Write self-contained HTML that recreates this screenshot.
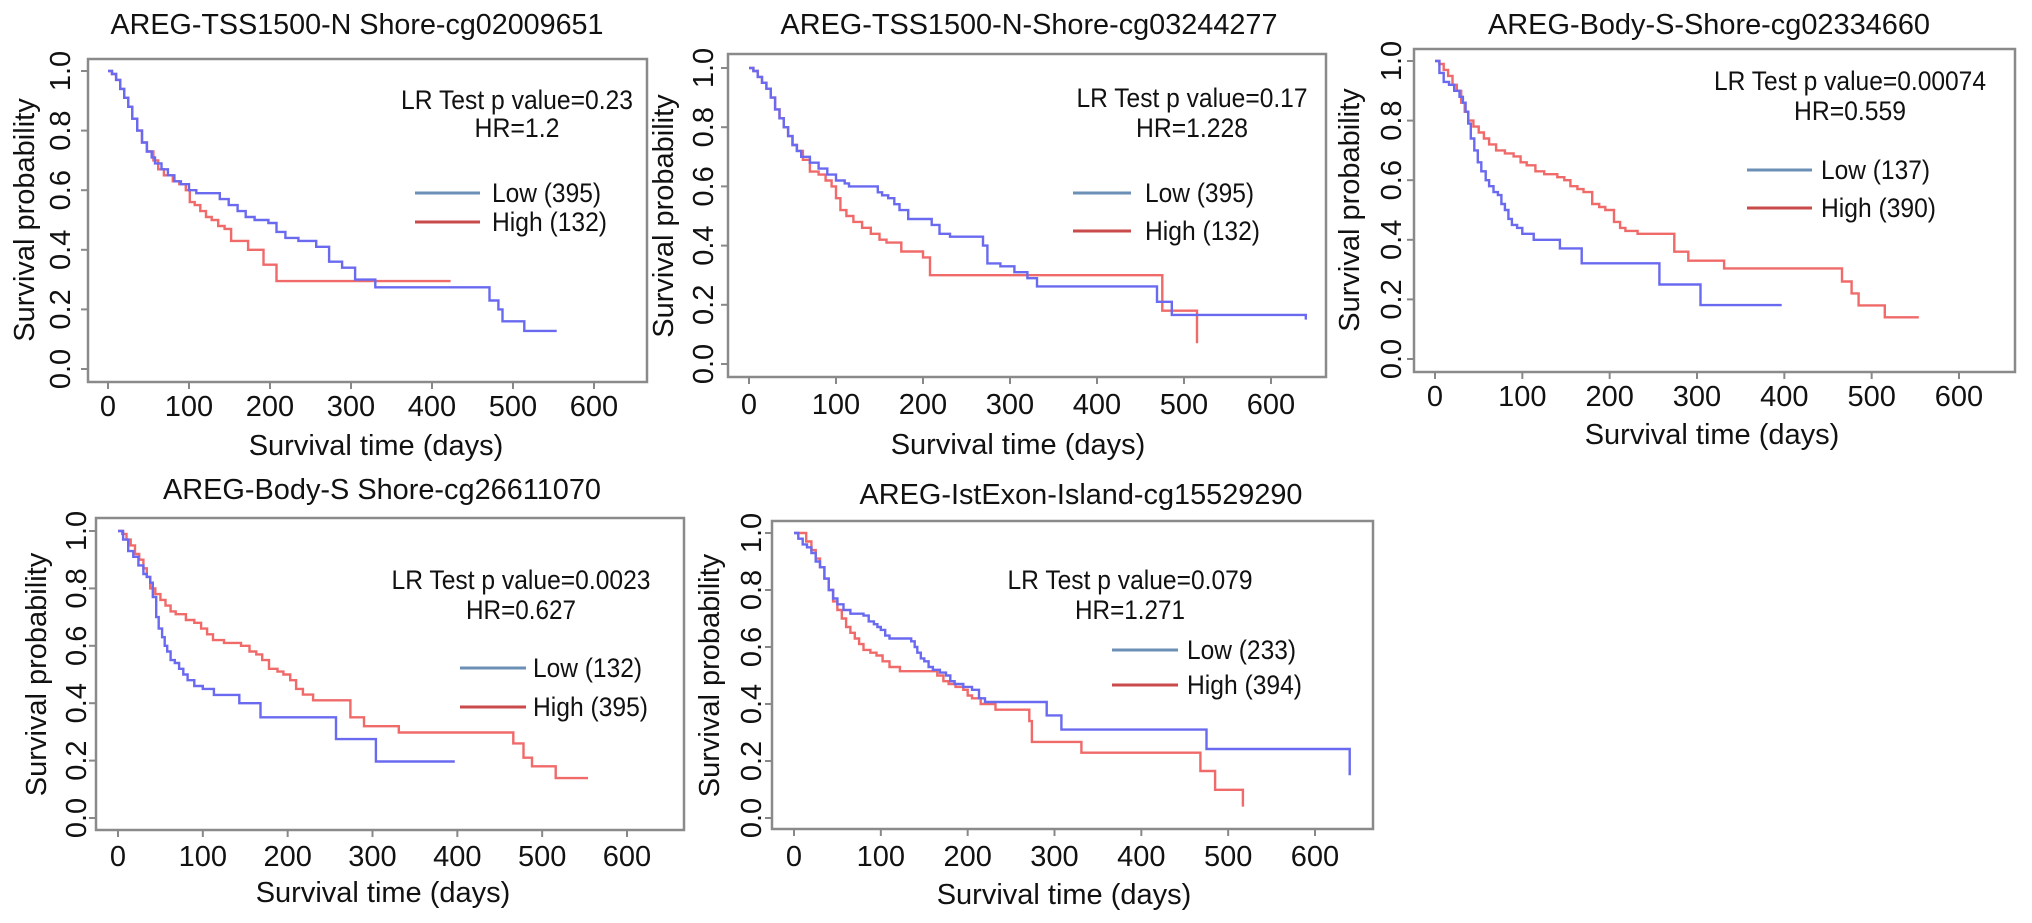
<!DOCTYPE html>
<html><head><meta charset="utf-8"><style>
html,body{margin:0;padding:0;background:#fff;}
svg{display:block;font-family:"Liberation Sans",Arial,sans-serif;}
</style></head><body>
<svg id="fig" width="2032" height="923" viewBox="0 0 2032 923" xmlns="http://www.w3.org/2000/svg"></svg>
<script>
// ---- data (days, survival probability), step functions ----
const xTicks = [0,100,200,300,400,500,600];
const yTicks = [0,0.2,0.4,0.6,0.8,1.0];
const yTickLabels = ["0.0","0.2","0.4","0.6","0.8","1.0"];

const p1LowT = [0,5,10,15,20,25,30,36,42,48,54,58,66,74,82,90,100,109,138,149,160,170,181,198,208,219,235,257,273,289,305,330,466,471,482,487,514,554];
const p1LowS = [1,0.99,0.97,0.94,0.91,0.88,0.84,0.8,0.76,0.73,0.71,0.69,0.67,0.65,0.63,0.62,0.60,0.59,0.57,0.55,0.53,0.51,0.5,0.49,0.46,0.44,0.43,0.41,0.36,0.34,0.30,0.274,0.274,0.23,0.2,0.16,0.128,0.128];
const p1HighT = [0,5,10,15,20,25,30,36,42,48,56,62,69,80,88,96,101,107,114,121,128,136,144,152,173,192,198,208,423];
const p1HighS = [1,0.99,0.97,0.94,0.91,0.88,0.84,0.8,0.76,0.73,0.7,0.67,0.65,0.63,0.62,0.6,0.56,0.55,0.53,0.51,0.5,0.48,0.47,0.43,0.4,0.35,0.35,0.295,0.295];

const p2LowT = [0,5,10,15,20,25,30,35,40,45,50,55,60,70,80,90,100,110,115,138,148,153,160,167,173,183,198,210,219,231,257,269,274,289,305,320,331,466,469,486,640,640];
const p2LowS = [1,0.99,0.97,0.95,0.93,0.9,0.86,0.83,0.8,0.77,0.74,0.72,0.7,0.68,0.66,0.64,0.62,0.61,0.6,0.6,0.58,0.57,0.56,0.54,0.52,0.49,0.49,0.47,0.44,0.43,0.43,0.40,0.34,0.33,0.31,0.29,0.262,0.262,0.21,0.166,0.166,0.15];
const p2HighT = [0,5,10,15,20,25,30,35,40,45,50,55,62,70,80,88,95,100,105,112,120,130,140,150,158,175,195,200,208,475,515,515];
const p2HighS = [1,0.99,0.97,0.95,0.93,0.9,0.86,0.83,0.8,0.77,0.74,0.72,0.69,0.65,0.64,0.62,0.6,0.56,0.52,0.5,0.48,0.46,0.44,0.42,0.41,0.38,0.38,0.36,0.30,0.18,0.18,0.07];

const p3LowT = [0,5,10,16,22,28,32,35,38,41,45,49,53,58,62,67,72,76,80,84,88,94,100,113,143,168,257,304,397];
const p3LowS = [1,0.96,0.93,0.92,0.9,0.88,0.86,0.83,0.79,0.74,0.7,0.66,0.63,0.6,0.58,0.56,0.55,0.52,0.5,0.47,0.45,0.44,0.42,0.40,0.371,0.321,0.25,0.181,0.181];
const p3HighT = [0,5,10,15,20,25,30,34,38,44,50,56,62,70,80,90,98,105,115,125,140,148,155,163,170,180,188,195,205,212,218,232,274,290,331,466,477,485,515,554];
const p3HighS = [1,0.99,0.97,0.95,0.92,0.9,0.86,0.83,0.8,0.78,0.76,0.74,0.72,0.7,0.69,0.68,0.66,0.65,0.63,0.62,0.61,0.6,0.58,0.57,0.56,0.52,0.51,0.5,0.46,0.44,0.43,0.42,0.36,0.33,0.304,0.26,0.22,0.18,0.14,0.14];

const p4LowT = [0,6,12,18,24,30,34,38,41,45,48,52,55,58,62,67,72,77,82,90,100,113,143,168,257,304,397];
const p4LowS = [1,0.97,0.93,0.91,0.88,0.85,0.84,0.82,0.77,0.7,0.66,0.63,0.6,0.58,0.55,0.54,0.52,0.5,0.48,0.46,0.45,0.429,0.40,0.351,0.275,0.197,0.197];
const p4HighT = [0,5,10,15,20,25,30,34,38,44,50,56,62,68,80,90,98,105,112,125,145,155,163,170,178,188,195,203,210,218,230,274,290,331,466,478,488,516,554];
const p4HighS = [1,0.99,0.97,0.95,0.92,0.9,0.87,0.84,0.8,0.78,0.76,0.74,0.72,0.71,0.69,0.68,0.66,0.64,0.62,0.61,0.6,0.58,0.57,0.55,0.52,0.51,0.5,0.48,0.45,0.43,0.41,0.351,0.32,0.298,0.26,0.21,0.18,0.139,0.139];

const p5LowT = [0,5,10,15,20,25,30,35,40,45,50,57,65,80,86,92,96,100,105,110,130,135,139,142,146,150,155,160,168,175,180,185,195,205,213,220,291,308,475,640,640];
const p5LowS = [1,0.98,0.96,0.95,0.93,0.9,0.88,0.84,0.8,0.77,0.75,0.73,0.717,0.71,0.69,0.68,0.67,0.66,0.64,0.63,0.63,0.62,0.6,0.58,0.56,0.55,0.53,0.52,0.51,0.5,0.48,0.47,0.46,0.45,0.42,0.407,0.36,0.31,0.242,0.242,0.15];
const p5HighT = [0,8,14,20,25,30,35,40,45,50,55,60,65,70,75,80,88,95,102,110,122,165,172,178,186,195,200,205,215,232,257,271,274,331,468,485,517,517];
const p5HighS = [1,1,0.97,0.94,0.91,0.88,0.84,0.8,0.76,0.73,0.7,0.67,0.65,0.63,0.61,0.59,0.58,0.57,0.55,0.53,0.515,0.5,0.48,0.47,0.46,0.45,0.43,0.42,0.4,0.38,0.38,0.34,0.267,0.229,0.165,0.099,0.099,0.04];

const titles = ["AREG-TSS1500-N Shore-cg02009651","AREG-TSS1500-N-Shore-cg03244277","AREG-Body-S-Shore-cg02334660","AREG-Body-S Shore-cg26611070","AREG-IstExon-Island-cg15529290"];
const pValues = ["0.23","0.17","0.00074","0.0023","0.079"];
const hrValues = ["1.2","1.228","0.559","0.627","1.271"];
const lowN = ["395","395","137","132","233"];
const highN = ["132","132","390","395","394"];

// ---- layout ----
const panels = [
 {box:[88,59,647,382],x0:108,x600:594,y1:71,y0:369,tt:[357,25],tw:493,ylab:25,ytick:61,xtickY:407,xt:[376,446],lr:[517,100],lrw:232,hrY:128,hrw:85,leg:[415,480],lowY:193,highY:222,labX:492,low:[p1LowT,p1LowS],high:[p1HighT,p1HighS]},
 {box:[728,54,1326,377],x0:749,x600:1271,y1:68,y0:364,tt:[1029,25],tw:497,ylab:664,ytick:704,xtickY:405,xt:[1018,445],lr:[1192,98],lrw:231,hrY:128,hrw:112,leg:[1073,1131],lowY:193,highY:231,labX:1145,low:[p2LowT,p2LowS],high:[p2HighT,p2HighS]},
 {box:[1414,49,2015,372],x0:1435,x600:1959,y1:61,y0:359,tt:[1709,25],tw:442,ylab:1350,ytick:1392,xtickY:397,xt:[1712,435],lr:[1850,81],lrw:272,hrY:111,hrw:112,leg:[1747,1812],lowY:170,highY:208,labX:1821,low:[p3LowT,p3LowS],high:[p3HighT,p3HighS]},
 {box:[96,518,684,830],x0:118,x600:627,y1:531,y0:818,tt:[382,490],tw:438,ylab:37,ytick:77,xtickY:857,xt:[383,893],lr:[521,580],lrw:259,hrY:610,hrw:110,leg:[460,526],lowY:668,highY:707,labX:533,low:[p4LowT,p4LowS],high:[p4HighT,p4HighS]},
 {box:[772,521,1373,829],x0:794,x600:1315,y1:533,y0:818,tt:[1081,495],tw:443,ylab:710,ytick:752,xtickY:857,xt:[1064,895],lr:[1130,580],lrw:245,hrY:610,hrw:110,leg:[1112,1178],lowY:650,highY:685,labX:1187,low:[p5LowT,p5LowS],high:[p5HighT,p5HighS]}
];
const NS="http://www.w3.org/2000/svg";
const svg=document.getElementById('fig');
function mk(tag,attrs,parent){const e=document.createElementNS(NS,tag);for(const k in attrs)e.setAttribute(k,attrs[k]);(parent||svg).appendChild(e);return e;}
function txt(s,attrs,parent){const e=mk('text',attrs,parent);e.textContent=s;return e;}

panels.forEach((p,i)=>{
  const g=mk('g',{});
  
  
  const xs=d=>p.x0+(p.x600-p.x0)*d/600;
  const ys=v=>p.y0+(p.y1-p.y0)*v;
  const [bl,bt,br,bb]=p.box;
  const t=txt(titles[i],{x:p.tt[0],y:p.tt[1],'font-size':29,'text-anchor':'middle','dominant-baseline':'central',fill:'#111',textLength:p.tw,lengthAdjust:'spacingAndGlyphs'},g);
  
  
  const box=mk('rect',{x:bl,y:bt,width:br-bl,height:bb-bt,fill:'none',stroke:'#8a8a8a','stroke-width':2.5},g);
  
  
  xTicks.forEach(d=>{
    mk('line',{x1:xs(d),x2:xs(d),y1:bb,y2:bb+7,stroke:'#888','stroke-width':2},g);
    const l=txt(String(d),{x:xs(d),y:p.xtickY,'font-size':29,'text-anchor':'middle','dominant-baseline':'central',fill:'#111'},g);
    
    
  });
  yTicks.forEach((v,k)=>{
    mk('line',{x1:bl-7,x2:bl,y1:ys(v),y2:ys(v),stroke:'#888','stroke-width':2},g);
    const l=txt(yTickLabels[k],{x:p.ytick,y:ys(v),'font-size':29,'text-anchor':'middle','dominant-baseline':'central',fill:'#111',transform:`rotate(-90 ${p.ytick} ${ys(v)})`},g);
    
    
  });
  const yc=(p.y0+p.y1)/2;
  const yl=txt('Survival probability',{x:p.ylab,y:yc,'font-size':29,'text-anchor':'middle','dominant-baseline':'central',fill:'#111',transform:`rotate(-90 ${p.ylab} ${yc})`},g);
  
  
  const xl=txt('Survival time (days)',{x:p.xt[0],y:p.xt[1],'font-size':29,'text-anchor':'middle','dominant-baseline':'central',fill:'#111'},g);
  
  
  const lr=txt('LR Test p value='+pValues[i],{x:p.lr[0],y:p.lr[1],'font-size':27,'text-anchor':'middle','dominant-baseline':'central',fill:'#111',textLength:p.lrw,lengthAdjust:'spacingAndGlyphs'},g);
  
  
  const hr=txt('HR='+hrValues[i],{x:p.lr[0],y:p.hrY,'font-size':27,'text-anchor':'middle','dominant-baseline':'central',fill:'#111',textLength:p.hrw,lengthAdjust:'spacingAndGlyphs'},g);
  
  
  function step(T,S,color,name){
    let d=`M${xs(T[0]).toFixed(1)},${ys(S[0]).toFixed(1)}`;
    for(let k=1;k<T.length;k++){d+=` H${xs(T[k]).toFixed(1)} V${ys(S[k]).toFixed(1)}`;}
    const pa=mk('path',{d:d,fill:'none',stroke:color,'stroke-width':2.4},g);
    
    
  }
  step(p.high[0],p.high[1],'#f06a6a','high-curve');
  step(p.low[0],p.low[1],'#6a6af0','low-curve');
  const l1=mk('line',{x1:p.leg[0],x2:p.leg[1],y1:p.lowY,y2:p.lowY,stroke:'#6b8fb5','stroke-width':3},g);
  
  
  const l2=mk('line',{x1:p.leg[0],x2:p.leg[1],y1:p.highY,y2:p.highY,stroke:'#c84a4a','stroke-width':3},g);
  
  
  const lt1=txt('Low ('+lowN[i]+')',{x:p.labX,y:p.lowY,'font-size':27,'dominant-baseline':'central',fill:'#111',textLength:109,lengthAdjust:'spacingAndGlyphs'},g);
  
  
  const lt2=txt('High ('+highN[i]+')',{x:p.labX,y:p.highY,'font-size':27,'dominant-baseline':'central',fill:'#111',textLength:115,lengthAdjust:'spacingAndGlyphs'},g);
  
  
});
</script>
</body></html>
